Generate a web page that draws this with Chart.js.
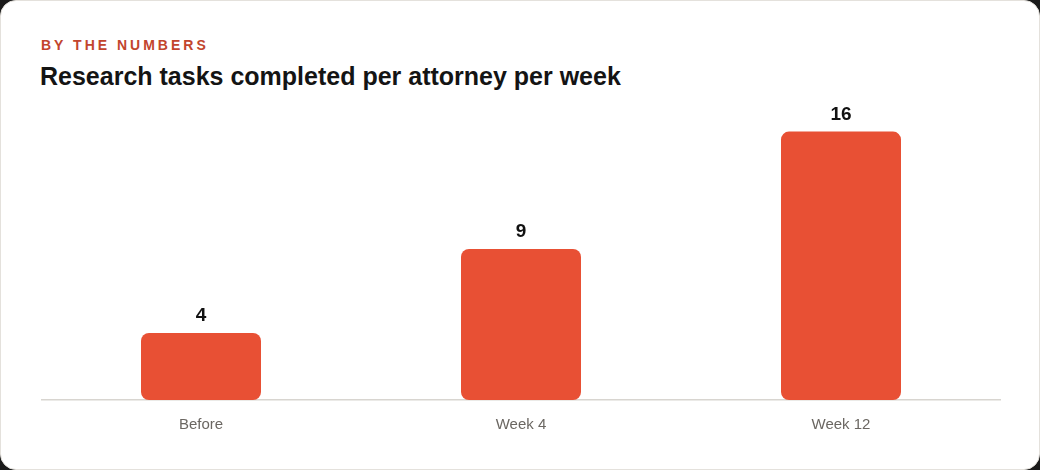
<!DOCTYPE html>
<html>
<head>
<meta charset="utf-8">
<script src="https://cdn.jsdelivr.net/npm/chart.js@4"></script>
<style>
  html, body { margin: 0; padding: 0; background: #1a1a1a; }
  body { width: 1040px; height: 470px; overflow: hidden; font-family: "Liberation Sans", Arial, sans-serif; }
  .card {
    position: absolute; left: 0; top: 0; width: 1038px; height: 468px;
    background: #fff; border: 1px solid #e4e1dc; border-radius: 16px;
  }
  .eyebrow {
    position: absolute; left: 40px; top: 36px; margin: 0;
    font-size: 14px; font-weight: 700; letter-spacing: 3px; color: #c2452d;
  }
  .title {
    position: absolute; left: 39px; top: 61px; margin: 0;
    font-size: 25px; font-weight: 700; color: #141414;
  }
  .wrap { position: absolute; left: 40px; top: 97px; width: 960px; height: 344px; }
</style>
</head>
<body>
<div class="card">
  <div class="eyebrow">BY THE NUMBERS</div>
  <div class="title">Research tasks completed per attorney per week</div>
  <div class="wrap"><canvas id="tasks"></canvas></div>
</div>
<script>
var periods = ["Before", "Week 4", "Week 12"];
var tasksPerWeek = [4, 9, 16];

// draws the number above each bar
var valueLabels = {
    id: "valueLabels",
    afterDatasetsDraw: function(chart) {
        var ctx = chart.ctx;
        var meta = chart.getDatasetMeta(0);
        ctx.save();
        ctx.font = "bold 19px 'Liberation Sans', Arial, sans-serif";
        ctx.fillStyle = "#111";
        ctx.textAlign = "center";
        ctx.textBaseline = "alphabetic";
        meta.data.forEach(function(bar, i) {
            ctx.fillText(tasksPerWeek[i], bar.x, bar.y - 12);
        });
        ctx.restore();
    }
};

var tasksChart = new Chart(document.getElementById("tasks"), {
    type: "bar",
    data: {
        labels: periods,
        datasets: [{
            data: tasksPerWeek,
            backgroundColor: "#e85034",
            borderRadius: 8,
            borderSkipped: false,
            categoryPercentage: 0.75,
            barPercentage: 0.5
        }]
    },
    options: {
        responsive: true,
        maintainAspectRatio: false,
        animation: false,
        layout: { padding: 0 },
        plugins: { legend: { display: false }, tooltip: { enabled: false } },
        scales: {
            x: {
                grid: { display: false },
                border: { color: "#d8d5d0", width: 1.5 },
                ticks: { color: "#6b6762", padding: 8, font: { size: 15, family: "'Liberation Sans', Arial, sans-serif" } }
            },
            y: {
                display: false,
                min: 0,
                max: 18
            }
        }
    },
    plugins: [valueLabels]
});
</script>
</body>
</html>
